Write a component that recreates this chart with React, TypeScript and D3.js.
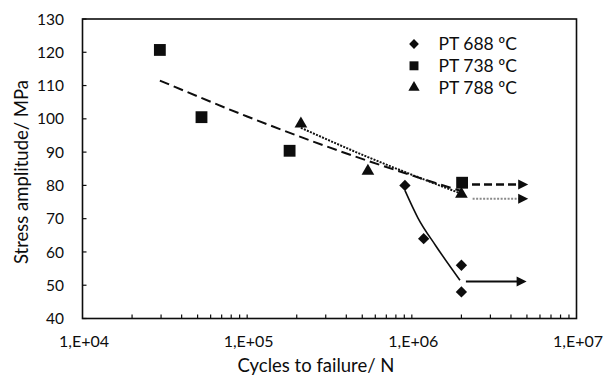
import React from 'react';
import * as d3 from 'd3';

// measured points
const n688 = [908000, 1180000, 2000000, 2000000];
const s688 = [80, 64, 56, 48];
const n738 = [29500, 52800, 181000, 2020000];
const s738 = [120.7, 100.5, 90.4, 80.8];
const n788 = [212000, 541000, 2000000];
const s788 = [98.5, 84.3, 77.4];

// trend lines
const fit688N = [908000, 1090000, 1400000, 1960000];
const fit688S = [78.5, 70.2, 61.8, 51.5];
const fit738N = [29500, 100000, 300000, 1000000, 2000000];
const fit738S = [111.5, 100.7, 91.8, 83.0, 78.3];
const fit788N = [212000, 541000, 1000000, 2000000];
const fit788S = [97.3, 88.5, 83.2, 77.5];

// run-out arrows (688, 738, 788)
const arrowFromN = [2130000, 2320000, 2340000];
const arrowToN = [4980000, 5090000, 5090000];
const arrowS = [51.1, 80.3, 76.0];

const legendLabels = ['PT 688 ºC', 'PT 738 ºC', 'PT 788 ºC'];
const yTicks = [40, 50, 60, 70, 80, 90, 100, 110, 120, 130];
const xLabelTicks = [1e4, 1e5, 1e6, 1e7];
const xLabelText = ['1,E+04', '1,E+05', '1,E+06', '1,E+07'];

const width = 614;
const height = 376;
const margin = { top: 19, right: 37.5, bottom: 57.5, left: 82.5 };
const font = 'Lato, "Open Sans", sans-serif';
const ink = '#0d0d0d';

export default function App() {
  const x = d3
    .scaleLog()
    .domain([1e4, 1e7])
    .range([margin.left, width - margin.right]);
  const y = d3
    .scaleLinear()
    .domain([40, 130])
    .range([height - margin.bottom, margin.top]);

  const line = d3
    .line<[number, number]>()
    .x((d) => x(d[0]))
    .y((d) => y(d[1]))
    .curve(d3.curveMonotoneX);

  const zip = (a: number[], b: number[]) => a.map((v, i) => [v, b[i]] as [number, number]);

  const square = d3.symbol().type(d3.symbolSquare).size(140)();
  const diamond = d3.symbol().type(d3.symbolSquare).size(64)();
  const triangle = d3.symbol().type(d3.symbolTriangle).size(70)();
  const lSquare = d3.symbol().type(d3.symbolSquare).size(80)();
  const lDiamond = d3.symbol().type(d3.symbolSquare).size(48)();
  const lTriangle = d3.symbol().type(d3.symbolTriangle).size(55)();

  const arrowStyles = [
    { stroke: ink, dash: undefined, w: 2 },
    { stroke: ink, dash: '8,4', w: 2.5 },
    { stroke: '#8a8a8a', dash: '2,1.5', w: 2 },
  ];

  const x0 = margin.left;
  const x1 = width - margin.right;
  const y0 = margin.top;
  const y1 = height - margin.bottom;

  return (
    <svg
      width={width}
      height={height}
      style={{ position: 'absolute', left: 0, top: 0, background: '#fff' }}
      fontFamily={font}
    >
      {/* ticks */}
      {x.ticks().filter((t) => t > 1e4 && t < 1e7).map((t, i) => (
        <line key={'xt' + i} x1={x(t)} x2={x(t)} y1={y1} y2={y1 - 4} stroke={ink} strokeWidth={1.2} />
      ))}
      {yTicks.map((t) => (
        <g key={'yt' + t}>
          <line x1={x0} x2={x0 + 4} y1={y(t)} y2={y(t)} stroke={ink} strokeWidth={1.2} />
          <text x={64} y={y(t)} dy="0.36em" textAnchor="end" fontSize={15.5} fill={ink}>
            {t}
          </text>
        </g>
      ))}
      {xLabelTicks.map((t, i) => (
        <text key={'xl' + i} x={x(t) + 1.5} y={347} textAnchor="middle" fontSize={16} fill={ink}>
          {xLabelText[i]}
        </text>
      ))}

      {/* frame */}
      <rect x={x0} y={y0} width={x1 - x0} height={y1 - y0} fill="none" stroke={ink} strokeWidth={1.6} />

      {/* trend lines */}
      <path d={line(zip(fit738N, fit738S)) || ''} fill="none" stroke={ink} strokeWidth={2} strokeDasharray="10,5" />
      <path d={line(zip(fit788N, fit788S)) || ''} fill="none" stroke="#111" strokeWidth={2} strokeDasharray="2,1.3" />
      <path d={line(zip(fit688N, fit688S)) || ''} fill="none" stroke={ink} strokeWidth={1.6} />

      {/* arrows */}
      {arrowS.map((s, i) => {
        const xa = x(arrowFromN[i]);
        const xb = x(arrowToN[i]);
        const yy = y(s);
        const st = arrowStyles[i];
        return (
          <g key={'ar' + i}>
            <line x1={xa} x2={xb - 8} y1={yy} y2={yy} stroke={st.stroke} strokeWidth={st.w} strokeDasharray={st.dash} />
            <path d={`M${xb},${yy} L${xb - 10},${yy - 5} L${xb - 10},${yy + 5} Z`} fill={ink} />
          </g>
        );
      })}

      {/* markers */}
      {n738.map((n, i) => (
        <path key={'sq' + i} d={square || ''} transform={`translate(${x(n)},${y(s738[i])})`} fill={ink} />
      ))}
      {n788.map((n, i) => (
        <path key={'tr' + i} d={triangle || ''} transform={`translate(${x(n)},${y(s788[i])})`} fill={ink} />
      ))}
      {n688.map((n, i) => (
        <path key={'di' + i} d={diamond || ''} transform={`translate(${x(n)},${y(s688[i])}) rotate(45)`} fill={ink} />
      ))}

      {/* legend */}
      {legendLabels.map((lab, i) => {
        const ly = 44 + i * 21.8;
        const sym = i === 0 ? lDiamond : i === 1 ? lSquare : lTriangle;
        return (
          <g key={'lg' + i}>
            <path d={sym || ''} transform={`translate(414,${ly})${i === 0 ? ' rotate(45)' : ''}`} fill={ink} />
            <text x={438.5} y={ly} dy="0.36em" fontSize={17.5} fill={ink}>
              {lab}
            </text>
          </g>
        );
      })}

      {/* axis titles */}
      <text x={316} y={372} textAnchor="middle" fontSize={18.5} fill={ink}>
        Cycles to failure/ N
      </text>
      <text transform="translate(28,172) rotate(-90)" textAnchor="middle" fontSize={18.5} fill={ink}>
        Stress amplitude/ MPa
      </text>
    </svg>
  );
}
